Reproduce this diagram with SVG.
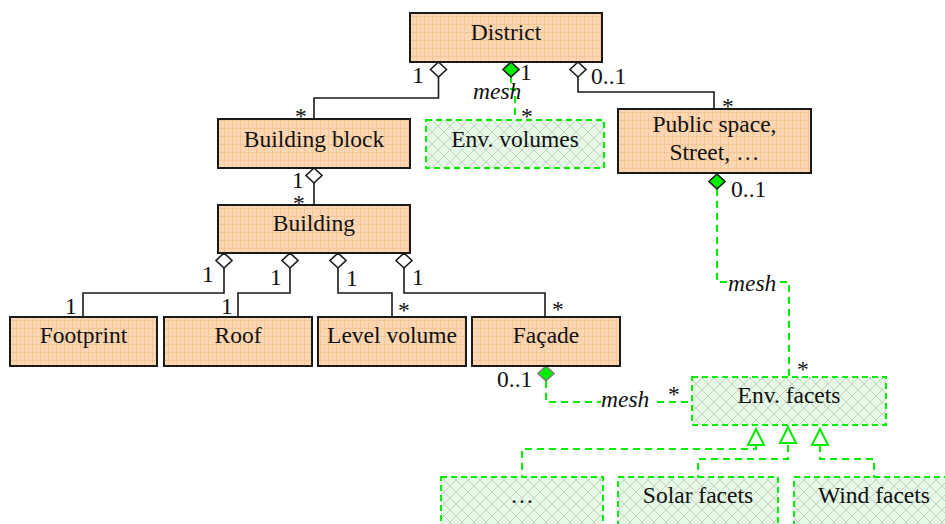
<svg xmlns="http://www.w3.org/2000/svg" xmlns:xlink="http://www.w3.org/1999/xlink" width="945" height="524" viewBox="0 0 945 524">
<style>
text{font-family:"Liberation Serif","Times New Roman",serif;font-size:23.5px;fill:#111}
.c{text-anchor:middle}
.i{font-style:italic}
.box{fill:url(#orange);stroke:#1a1a1a;stroke-width:2}
.gbox{fill:url(#green);stroke:#00ee00;stroke-width:2;stroke-dasharray:6 4}
.ln{fill:none;stroke:#1a1a1a;stroke-width:1.6}
.gln{fill:none;stroke:#00ee00;stroke-width:2;stroke-dasharray:7 5}
.hd{fill:#fff;stroke:#1a1a1a;stroke-width:1.6}
.fd{fill:#00ee00;stroke:#1a1a1a;stroke-width:1.6}
.fd2{fill:#00ee00;stroke:#808080;stroke-width:1.6}
.tri{fill:#fff;stroke:#00ee00;stroke-width:2}
.bg{fill:#fff}
</style>
<defs>
<pattern id="orange" width="8" height="8" patternUnits="userSpaceOnUse">
<rect width="8" height="8" fill="#fcd7b4"/>
<path d="M0,0.5H8M0.5,0V8" stroke="#f8c595" stroke-width="1"/>
<circle cx="4.5" cy="4.5" r="0.8" fill="#f9cba0"/>
</pattern>
<pattern id="green" width="12" height="12" patternUnits="userSpaceOnUse">
<rect width="12" height="12" fill="#e6f8e6"/>
<path d="M0,0L12,12M12,0L0,12" stroke="#c4d2c4" stroke-width="1"/>
</pattern>
<path id="dia" d="M0,0L8,7.5L0,15L-8,7.5Z"/>
<path id="tri" d="M0,0L8,16L-8,16Z"/>
</defs>

<g id="connectors">
<!-- District to Building block -->
<path class="ln" d="M438.5,76V98H314V119"/>
<use href="#dia" class="hd" x="438.5" y="62"/>
<!-- District to Env volumes -->
<path class="gln" d="M511,76V89H515V120"/>
<use href="#dia" class="fd" x="511" y="62"/>
<!-- District to Public space -->
<path class="ln" d="M578,76V92H714V109"/>
<use href="#dia" class="hd" x="578" y="62"/>
<!-- Building block to Building -->
<path class="ln" d="M314,183V205"/>
<use href="#dia" class="hd" x="314" y="168"/>
<!-- Building to parts -->
<path class="ln" d="M224,268V293H83V317"/>
<path class="ln" d="M290,268V293H238V317"/>
<path class="ln" d="M338,268V293H392V317"/>
<path class="ln" d="M404,268V293H545V317"/>
<use href="#dia" class="hd" x="224" y="253"/>
<use href="#dia" class="hd" x="290" y="253"/>
<use href="#dia" class="hd" x="338" y="253"/>
<use href="#dia" class="hd" x="404" y="253"/>
<!-- Public space to Env facets -->
<path class="gln" d="M717,189V282H789V377"/>
<use href="#dia" class="fd" x="717" y="174"/>
<!-- Facade to Env facets -->
<path class="gln" d="M546,381V402H692"/>
<use href="#dia" class="fd2" x="546" y="366"/>
<!-- generalizations -->
<path class="gln" d="M756,445V449H522V477"/>
<path class="gln" d="M788,445V459H698V477"/>
<path class="gln" d="M820,445V459H874V477"/>
<use href="#tri" class="tri" x="756" y="429"/>
<use href="#tri" class="tri" x="788" y="427"/>
<use href="#tri" class="tri" x="820" y="429"/>

<!-- labels -->
<text x="424" y="83" text-anchor="end">1</text>
<text x="520" y="80">1</text>
<text x="591" y="84">0..1</text>
<text x="473" y="99" class="i">mesh</text>
<text x="521" y="124">*</text>
<text x="295" y="124">*</text>
<text x="722" y="114">*</text>
<text x="292" y="188">1</text>
<text x="293" y="211">*</text>
<text x="731" y="197">0..1</text>
<text x="202" y="282">1</text>
<text x="270" y="285">1</text>
<text x="346" y="286">1</text>
<text x="412" y="285">1</text>
<text x="65" y="314">1</text>
<text x="221" y="314">1</text>
<text x="398" y="318">*</text>
<text x="552" y="317">*</text>
<text x="497" y="387">0..1</text>
<rect class="bg" x="601" y="394" width="51" height="14"/>
<text x="601" y="407" class="i">mesh</text>
<text x="668" y="402">*</text>
<rect class="bg" x="728" y="275" width="51" height="14"/>
<text x="728" y="291" class="i">mesh</text>
<text x="797" y="377">*</text>
</g>

<g id="district"><rect class="box" x="410" y="13" width="192" height="49"/><text class="c" x="506" y="40">District</text></g>
<g id="building-block"><rect class="box" x="218" y="119" width="192" height="49"/><text class="c" x="314" y="147">Building block</text></g>
<g id="env-volumes"><rect class="gbox" x="426" y="120" width="178" height="48"/><text class="c" x="515" y="147">Env. volumes</text></g>
<g id="public-space"><rect class="box" x="618" y="109" width="193" height="64"/><text class="c" x="714.5" y="132">Public space,</text><text class="c" x="714.5" y="160">Street, …</text></g>
<g id="building"><rect class="box" x="218" y="205" width="192" height="48"/><text class="c" x="314" y="231">Building</text></g>
<g id="footprint"><rect class="box" x="10" y="317" width="147" height="49"/><text class="c" x="83.5" y="343">Footprint</text></g>
<g id="roof"><rect class="box" x="164" y="317" width="148" height="49"/><text class="c" x="238" y="343">Roof</text></g>
<g id="level-volume"><rect class="box" x="318" y="317" width="148" height="49"/><text class="c" x="392" y="343">Level volume</text></g>
<g id="facade"><rect class="box" x="472" y="317" width="148" height="49"/><text class="c" x="546" y="343">Façade</text></g>
<g id="env-facets"><rect class="gbox" x="692" y="377" width="194" height="48"/><text class="c" x="789" y="403">Env. facets</text></g>
<g id="other-facets"><rect class="gbox" x="441" y="477" width="162" height="60"/><text class="c" x="522" y="503">…</text></g>
<g id="solar-facets"><rect class="gbox" x="618" y="477" width="160" height="60"/><text class="c" x="698" y="503">Solar facets</text></g>
<g id="wind-facets"><rect class="gbox" x="794" y="477" width="160" height="60"/><text class="c" x="874" y="503">Wind facets</text></g>
</svg>
